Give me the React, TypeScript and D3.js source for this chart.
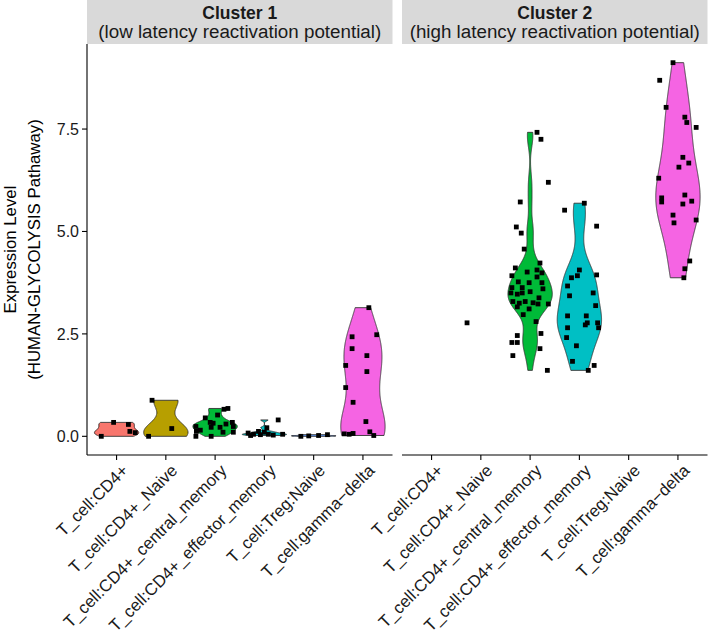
import React from "react";
import * as d3 from "d3";

// ---------- data ----------
const categories = [
  "T_cell:CD4+",
  "T_cell:CD4+_Naive",
  "T_cell:CD4+_central_memory",
  "T_cell:CD4+_effector_memory",
  "T_cell:Treg:Naive",
  "T_cell:gamma\u2212delta",
];
const categoryColors = ["#F8766D", "#B79F00", "#00BA38", "#00BFC4", "#619CFF", "#F564E3"];

const stripTitles = ["Cluster 1", "Cluster 2"];
const stripSubtitles = ["(low latency reactivation potential)", "(high latency reactivation potential)"];

const yTicks = [0, 2.5, 5, 7.5];
const yTickLabels = ["0.0", "2.5", "5.0", "7.5"];
const yTitle = ["Expression Level", "(HUMAN-GLYCOLYSIS Pathaway)"];

// [expression value, horizontal jitter in category units]
const c1_cd4 = [[0.0, -0.31], [0.34, -0.06], [0.29, 0.24], [0.12, 0.27], [0.09, 0.38]];
const c1_naive = [[0.0, -0.35], [0.88, -0.28], [0.19, 0.12]];
const c1_central = [
  [0.24, -0.39], [0.0, -0.39], [0.12, -0.38], [0.34, -0.1], [0.22, -0.08], [0.0, -0.08],
  [0.32, -0.04], [0.22, 0.1], [0.1, 0.16], [0.34, 0.35], [0.24, 0.37], [0.1, 0.37],
  [0.66, 0.18], [0.68, 0.26], [0.45, -0.2], [0.52, 0.05], [0.15, -0.3], [0.3, 0.22],
];
const c1_effector = [
  [0.08, -0.33], [0.05, -0.22], [0.04, -0.08], [0.05, 0.08], [0.05, 0.37], [0.4, 0.28],
  [0.1, 0.0], [0.03, 0.18], [0.12, -0.12], [0.21, 0.05], [0.02, -0.28],
];
const c1_treg = [[0.0, -0.26], [0.01, -0.1], [0.02, 0.1], [0.04, 0.28]];
const c1_gd = [
  [3.14, 0.12], [2.48, 0.28], [2.43, -0.22], [2.14, -0.22], [1.97, 0.08], [1.73, -0.35],
  [1.58, 0.08], [1.19, -0.35], [0.83, -0.2], [0.36, 0.06], [0.11, 0.14], [0.02, 0.22],
  [0.05, -0.28], [0.07, -0.2], [0.06, -0.38],
];

const c2_cd4: number[][] = [];
const c2_naive = [[2.77, -0.28]];
const c2_central = [
  [7.42, 0.14], [7.25, 0.22], [6.2, 0.37], [5.72, -0.2], [5.11, -0.28], [4.96, -0.18],
  [4.57, -0.12], [4.11, -0.3], [4.23, 0.2], [3.92, -0.37], [4.01, -0.06], [4.06, 0.14],
  [3.99, 0.24], [3.89, 0.14], [3.77, -0.24], [3.75, -0.02], [3.75, 0.24], [3.63, -0.37],
  [3.63, -0.16], [3.6, 0.26], [3.5, -0.39], [3.47, -0.26], [3.5, -0.16], [3.53, 0.0],
  [3.38, 0.18], [3.29, -0.35], [3.25, -0.22], [3.29, -0.1], [3.26, 0.06], [3.23, 0.16],
  [3.23, 0.37], [3.16, -0.26], [3.11, -0.02], [2.97, -0.14], [2.8, 0.12], [2.51, 0.22],
  [2.46, -0.26], [2.29, -0.37], [2.29, -0.26], [2.14, 0.2], [1.97, -0.35], [1.61, 0.35],
];
const c2_effector = [
  [5.69, 0.1], [5.52, -0.3], [5.13, 0.35], [4.06, 0.0], [3.92, -0.04], [3.87, -0.16],
  [3.94, 0.35], [3.67, -0.24], [3.5, 0.28], [3.43, -0.2], [3.19, 0.33], [2.94, -0.24],
  [2.94, 0.14], [2.72, 0.12], [2.77, 0.16], [2.77, 0.37], [2.65, -0.24], [2.65, 0.39],
  [2.41, -0.26], [2.21, -0.06], [1.83, -0.14], [1.73, 0.3], [1.61, 0.18],
];
const c2_treg: number[][] = [];
const c2_gd = [
  [9.12, -0.1], [8.69, -0.37], [8.03, -0.24], [7.79, 0.14], [7.66, 0.18], [7.54, 0.37],
  [6.81, 0.1], [6.57, 0.02], [6.67, 0.22], [6.3, -0.39], [5.82, -0.33], [5.72, -0.33],
  [5.89, 0.14], [5.67, 0.1], [5.74, 0.28], [5.28, 0.37], [5.4, -0.1], [5.21, -0.08],
  [4.28, 0.24], [4.09, 0.14], [3.87, 0.12],
];

const panelData = [
  [c1_cd4, c1_naive, c1_central, c1_effector, c1_treg, c1_gd],
  [c2_cd4, c2_naive, c2_central, c2_effector, c2_treg, c2_gd],
];

// ---------- layout ----------
const W = 709;
const H = 643;
const panelTop = 44;
const panelBottom = 455;
const panelLefts = [87, 402];
const panelWidth = 305.5;
const FONT = "'Liberation Sans', Arial, Helvetica, sans-serif";

function bwNrd0(x: number[]) {
  const n = x.length;
  const s = [...x].sort((a, b) => a - b);
  const hi = d3.deviation(s) || 0;
  const iqr = (d3.quantileSorted(s, 0.75) as number) - (d3.quantileSorted(s, 0.25) as number);
  let lo = Math.min(hi, iqr / 1.34);
  if (!(lo > 0)) lo = hi || Math.abs(s[0]) || 1;
  return 0.9 * lo * Math.pow(n, -0.2);
}

function violinProfile(values: number[]) {
  const bw = bwNrd0(values);
  const [mn, mx] = d3.extent(values) as [number, number];
  const N = 512;
  const pts: [number, number][] = [];
  for (let i = 0; i < N; i++) {
    const y = mn + ((mx - mn) * i) / (N - 1);
    let dsum = 0;
    for (const v of values) {
      const z = (y - v) / bw;
      dsum += Math.exp(-0.5 * z * z);
    }
    pts.push([y, dsum]);
  }
  const maxD = d3.max(pts, (p) => p[1]) || 1;
  return pts.map(([y, dd]) => [y, dd / maxD] as [number, number]);
}

export default function App() {
  const allVals = panelData.flatMap((p) => p.flatMap((g) => g.map((d) => d[0])));
  const [vmin, vmax] = d3.extent(allVals) as [number, number];
  const pad = (vmax - vmin) * 0.05;
  const y = d3.scaleLinear().domain([vmin - pad, vmax + pad]).range([panelBottom, panelTop]);

  const lineGen = d3.line<[number, number]>().x((d) => d[0]).y((d) => d[1]);

  return (
    <svg
      width={W}
      height={H}
      style={{ position: "absolute", left: 0, top: 0, background: "#fff" }}
      fontFamily={FONT}
    >
      <rect x={0} y={0} width={W} height={H} fill="#fff" />
      {panelData.map((groups, pi) => {
        const left = panelLefts[pi];
        const x = d3
          .scalePoint<string>()
          .domain(categories)
          .range([left, left + panelWidth])
          .padding(0.6);
        const step = x.step();
        return (
          <g key={pi}>
            {/* strip */}
            <rect x={left} y={0} width={panelWidth} height={panelTop} fill="#D9D9D9" />
            <text
              x={left + panelWidth / 2}
              y={18.5}
              textAnchor="middle"
              fontSize={17.5}
              fontWeight="bold"
              fill="#1a1a1a"
            >
              {stripTitles[pi]}
            </text>
            <text
              x={left + panelWidth / 2}
              y={38}
              textAnchor="middle"
              fontSize={18.8}
              fill="#1a1a1a"
            >
              {stripSubtitles[pi]}
            </text>

            {/* violins */}
            {groups.map((g, gi) => {
              if (g.length < 2) return null;
              const vals = g.map((d) => d[0]);
              const prof = violinProfile(vals);
              const cx = x(categories[gi]) as number;
              const hw = 0.45 * step;
              const right = prof.map(([v, w]) => [cx + w * hw, y(v)] as [number, number]);
              const leftSide = prof
                .slice()
                .reverse()
                .map(([v, w]) => [cx - w * hw, y(v)] as [number, number]);
              const path = lineGen([...right, ...leftSide]) + "Z";
              return (
                <path
                  key={"v" + gi}
                  d={path}
                  fill={categoryColors[gi]}
                  stroke="#333333"
                  strokeWidth={0.9}
                  strokeLinejoin="round"
                />
              );
            })}

            {/* jittered points */}
            {groups.map((g, gi) => {
              const cx = x(categories[gi]) as number;
              return g.map((d, k) => (
                <rect
                  key={"p" + gi + "-" + k}
                  x={cx + d[1] * step - 2.4}
                  y={y(d[0]) - 2.4}
                  width={4.8}
                  height={4.8}
                  fill="#000"
                />
              ));
            })}

            {/* x axis */}
            <line
              x1={left}
              x2={left + panelWidth}
              y1={panelBottom}
              y2={panelBottom}
              stroke="#000"
              strokeWidth={1.1}
            />
            {categories.map((c, ci) => {
              const cx = x(c) as number;
              return (
                <g key={"xt" + ci}>
                  <line x1={cx} x2={cx} y1={panelBottom} y2={panelBottom + 5} stroke="#000" strokeWidth={1.1} />
                  <text
                    transform={`translate(${cx + 4},${panelBottom + 8}) rotate(-45)`}
                    textAnchor="end"
                    dy="0.72em"
                    fontSize={16.8}
                    fill="#1a1a1a"
                  >
                    {c}
                  </text>
                </g>
              );
            })}

            {/* y axis only on first panel */}
            {pi === 0 && (
              <g>
                <line
                  x1={left}
                  x2={left}
                  y1={panelTop}
                  y2={panelBottom}
                  stroke="#000"
                  strokeWidth={1.1}
                />
                {yTicks.map((t, ti) => (
                  <g key={"yt" + ti}>
                    <line x1={left - 5} x2={left} y1={y(t)} y2={y(t)} stroke="#000" strokeWidth={1.1} />
                    <text
                      x={left - 8}
                      y={y(t)}
                      dy="0.36em"
                      textAnchor="end"
                      fontSize={16}
                      fill="#1a1a1a"
                    >
                      {yTickLabels[ti]}
                    </text>
                  </g>
                ))}
              </g>
            )}
          </g>
        );
      })}

      {/* y title */}
      {yTitle.map((t, i) => (
        <text
          key={"ytl" + i}
          transform={`translate(${i === 0 ? 15.5 : 39.5},${(panelTop + panelBottom) / 2}) rotate(-90)`}
          textAnchor="middle"
          fontSize={16.8}
          fill="#000"
        >
          {t}
        </text>
      ))}
    </svg>
  );
}
